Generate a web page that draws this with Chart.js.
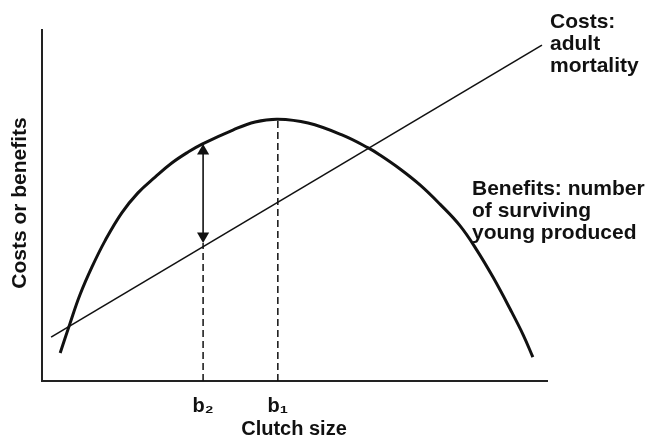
<!DOCTYPE html>
<html>
<head>
<meta charset="utf-8">
<script src="https://cdn.jsdelivr.net/npm/chart.js@4"></script>
<style>
  html, body { margin: 0; padding: 0; background: #fff; }
  #wrap { width: 648px; height: 441px; }
</style>
</head>
<body>
<div id="wrap"><canvas id="chart" width="648" height="441"></canvas></div>
<script>
// benefits curve (x = clutch size, y = costs or benefits, 0..100)
var benefitX = [3.6, 5.5, 7.5, 9.9, 12.5, 15.8, 19.0, 22.4, 25.7, 28.9, 31.7, 37.8, 42.2, 46.7, 52.7, 59.4, 64.6, 66.9, 70.9, 74.9, 78.8, 82.8, 86.1, 89.3, 92.7, 95.3, 97.2];
var benefitY = [8.0, 16.2, 24.5, 32.5, 40.0, 47.9, 53.6, 58.1, 62.1, 65.2, 67.5, 71.5, 73.8, 74.6, 73.5, 70.1, 66.4, 64.4, 60.4, 55.8, 50.4, 44.2, 37.3, 29.6, 20.5, 13.1, 6.8];

// costs line, two ends
var costX = [1.8, 99.0];
var costY = [12.5, 95.7];

// marked clutch sizes
var tickValues = [31.9, 46.7];
var tickLabels = ['b\u2082', 'b\u2081'];

// b2 arrow between cost line and benefit curve
var b2Cost = 39.3;
var b2Benefit = 67.5;
var b1Benefit = 74.6;

var fontName = '"Liberation Sans", Arial, sans-serif';
var ink = '#111';

function toPoints(xs, ys){
    var pts = [];
    xs.forEach(function(x, i){
        pts.push({x: x, y: ys[i]});
    });
    return pts;
}

var textPlugin = {
    id: 'texts',
    afterDraw: function(chart){
        var ctx = chart.ctx;
        ctx.save();
        ctx.fillStyle = ink;
        ctx.font = 'bold 21px ' + fontName;
        ctx.textAlign = 'left';
        ctx.textBaseline = 'alphabetic';
        ctx.fillText('Costs:', 550, 28);
        ctx.fillText('adult', 550, 50);
        ctx.fillText('mortality', 550, 72);
        ctx.fillText('Benefits: number', 472, 195);
        ctx.fillText('of surviving', 472, 217);
        ctx.fillText('young produced', 472, 239);

        ctx.font = 'bold 20px ' + fontName;
        ctx.textAlign = 'center';
        ctx.fillText('Clutch size', 294, 435);

        ctx.font = 'bold 21px ' + fontName;
        ctx.translate(26, 203);
        ctx.rotate(-Math.PI / 2);
        ctx.fillText('Costs or benefits', 0, 0);
        ctx.restore();
    }
};

var ctx = document.getElementById('chart').getContext('2d');
var chart = new Chart(ctx, {
    type: 'scatter',
    data: {
        datasets: [{
            label: 'Benefits',
            data: toPoints(benefitX, benefitY),
            showLine: true,
            borderColor: ink,
            borderWidth: 3,
            tension: 0.4,
            pointRadius: 0
        }, {
            label: 'Costs',
            data: toPoints(costX, costY),
            showLine: true,
            borderColor: ink,
            borderWidth: 1.6,
            pointRadius: 0
        }, {
            label: 'b1',
            data: [{x: tickValues[1], y: 0}, {x: tickValues[1], y: b1Benefit}],
            showLine: true,
            borderColor: ink,
            borderWidth: 1.5,
            borderDash: [7, 4],
            pointRadius: 0
        }, {
            label: 'b2',
            data: [{x: tickValues[0], y: 0}, {x: tickValues[0], y: b2Cost}],
            showLine: true,
            borderColor: ink,
            borderWidth: 1.5,
            borderDash: [7, 4],
            pointRadius: 0
        }, {
            label: 'arrow',
            data: [{x: tickValues[0], y: b2Cost + 2.0}, {x: tickValues[0], y: b2Benefit - 2.0}],
            showLine: true,
            borderColor: ink,
            backgroundColor: ink,
            borderWidth: 1.6,
            pointStyle: 'triangle',
            pointRadius: 7,
            pointRotation: [180, 0],
            pointBorderWidth: 0
        }]
    },
    options: {
        responsive: false,
        animation: false,
        layout: { padding: { left: 0, right: 101, top: 30, bottom: 0 } },
        plugins: {
            legend: { display: false },
            tooltip: { enabled: false }
        },
        scales: {
            x: {
                type: 'linear',
                min: 0,
                max: 100,
                grid: { display: false },
                border: { display: true, color: '#222', width: 2 },
                afterFit: function(scale){ scale.height = 60; },
                afterBuildTicks: function(scale){
                    scale.ticks = tickValues.map(function(v){ return {value: v}; });
                },
                ticks: {
                    autoSkip: false,
                    maxRotation: 0,
                    padding: 5,
                    color: ink,
                    font: { family: fontName, size: 20, weight: 'bold' },
                    callback: function(value){
                        var i = tickValues.indexOf(value);
                        return i >= 0 ? tickLabels[i] : '';
                    }
                }
            },
            y: {
                type: 'linear',
                min: 0,
                max: 100,
                grid: { display: false },
                border: { display: true, color: '#222', width: 2 },
                ticks: { display: false },
                afterFit: function(scale){ scale.width = 42; }
            }
        }
    },
    plugins: [textPlugin]
});
</script>
</body>
</html>
